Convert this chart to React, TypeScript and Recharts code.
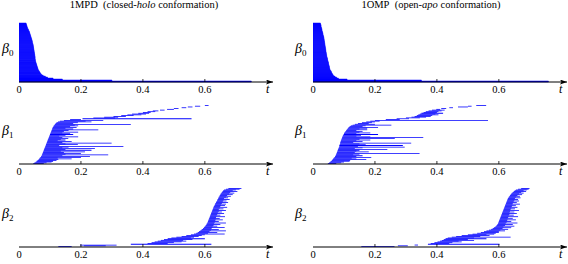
import { ComposedChart, Bar, XAxis, YAxis } from 'recharts';

const tickValues = [0, 0.2, 0.4, 0.6];
const timeDomain: [number, number] = [0, 0.82];

// beta_0: every bar is born at t = 0, rows listed top to bottom
const b0LeftDeath = [
  0.023, 0.024, 0.025, 0.026, 0.027, 0.028, 0.030, 0.031, 0.033, 0.034,
  0.035, 0.036, 0.037, 0.038, 0.039, 0.040, 0.041, 0.042, 0.043, 0.043, 0.044, 0.045, 0.046, 0.046,
  0.047, 0.047, 0.048, 0.048, 0.049, 0.049, 0.050, 0.050, 0.051, 0.051, 0.052, 0.052, 0.052, 0.053,
  0.053, 0.054, 0.055, 0.056, 0.057, 0.058, 0.059, 0.060, 0.061, 0.062,
  0.064, 0.066, 0.068, 0.070, 0.073,
  0.078, 0.085, 0.092, 0.110, 0.140, 0.300, 0.750,
];
const b0RightDeath = [
  0.024, 0.025, 0.026, 0.026, 0.027, 0.028, 0.029, 0.029, 0.030, 0.031, 0.032, 0.032, 0.033, 0.034,
  0.035, 0.035, 0.036, 0.036, 0.037, 0.037, 0.038, 0.038, 0.039, 0.039, 0.040, 0.040, 0.041, 0.041,
  0.042, 0.042, 0.043, 0.043, 0.044, 0.044, 0.045,
  0.046, 0.047, 0.047, 0.048, 0.049, 0.050, 0.050, 0.051, 0.052, 0.053, 0.053, 0.054, 0.055,
  0.057, 0.059, 0.060, 0.062, 0.064, 0.066,
  0.071, 0.076, 0.082,
  0.110, 0.350, 0.760,
];

// beta_1, 1MPD
const b1LeftBirth = [
  0.600, 0.568, 0.545, 0.525, 0.500, 0.478, 0.455, 0.432, 0.415, 0.400, 0.385, 0.365, 0.350, 0.330, 0.305, 0.275, 0.240, 0.205,
  0.165, 0.145, 0.132, 0.126, 0.121, 0.118, 0.116,
  0.114, 0.112, 0.111, 0.109, 0.108, 0.107, 0.106, 0.105, 0.104, 0.103,
  0.102, 0.101, 0.100, 0.099, 0.098, 0.097, 0.096, 0.095, 0.094, 0.093, 0.092, 0.091, 0.090, 0.089, 0.088,
  0.087, 0.086, 0.085, 0.084, 0.083, 0.082, 0.081, 0.080, 0.079, 0.078, 0.077, 0.076, 0.075, 0.074, 0.073,
  0.071, 0.069, 0.067, 0.065, 0.063, 0.060, 0.057, 0.054, 0.050, 0.046,
];
const b1LeftDeath = [
  0.612, 0.585, 0.560, 0.540, 0.515, 0.500, 0.470, 0.450, 0.440, 0.425, 0.420, 0.410, 0.395, 0.370, 0.345, 0.320, 0.310, 0.557,
  0.200, 0.272, 0.215, 0.234, 0.190, 0.175, 0.361, 0.180, 0.191, 0.165, 0.186, 0.150, 0.175, 0.256, 0.160, 0.145, 0.191,
  0.140, 0.165, 0.175, 0.150, 0.130, 0.191, 0.140, 0.159, 0.135, 0.150, 0.125, 0.170, 0.140, 0.299, 0.150,
  0.190, 0.130, 0.337, 0.160, 0.140, 0.245, 0.150, 0.234, 0.135, 0.213, 0.145, 0.200, 0.150, 0.288, 0.140,
  0.229, 0.200, 0.125, 0.170, 0.127, 0.121, 0.110, 0.105, 0.089, 0.080,
];

// beta_1, 1OMP
const b1RightBirth = [
  0.527, 0.500, 0.468, 0.440, 0.414, 0.398, 0.384, 0.373, 0.364, 0.357, 0.350, 0.345, 0.340, 0.335, 0.328, 0.318, 0.300, 0.270, 0.235, 0.200,
  0.185, 0.172, 0.158, 0.145, 0.135, 0.128, 0.122, 0.118, 0.115, 0.113, 0.111, 0.109, 0.107, 0.105, 0.103,
  0.101, 0.100, 0.099, 0.097, 0.096, 0.095, 0.094, 0.093, 0.092, 0.091, 0.090, 0.089, 0.088, 0.088, 0.087,
  0.086, 0.085, 0.085, 0.084, 0.083, 0.082, 0.081, 0.080, 0.079, 0.078, 0.077, 0.076, 0.075, 0.074, 0.073,
  0.071, 0.069, 0.067, 0.065, 0.063, 0.061, 0.058, 0.055, 0.052, 0.048,
];
const b1RightDeath = [
  0.559, 0.512, 0.500, 0.452, 0.430, 0.410, 0.425, 0.415, 0.405, 0.400, 0.420, 0.395, 0.405, 0.385, 0.380, 0.365, 0.345, 0.310, 0.280, 0.565,
  0.215, 0.200, 0.190, 0.180, 0.200, 0.253, 0.170, 0.160, 0.210, 0.175, 0.150, 0.175, 0.140, 0.160, 0.150,
  0.185, 0.140, 0.210, 0.155, 0.140, 0.185, 0.356, 0.264, 0.150, 0.185, 0.140, 0.160, 0.130, 0.317, 0.150,
  0.170, 0.290, 0.145, 0.296, 0.160, 0.135, 0.240, 0.150, 0.140, 0.180, 0.135, 0.344, 0.150, 0.130, 0.160,
  0.140, 0.188, 0.125, 0.140, 0.172, 0.120, 0.118, 0.100, 0.091, 0.075,
];

// beta_2, 1MPD
const b2LeftBirth = [
  0.676, 0.668, 0.662, 0.659, 0.657, 0.655, 0.653, 0.651, 0.650, 0.648,
  0.647, 0.645, 0.644, 0.643, 0.641, 0.640, 0.639, 0.637, 0.636, 0.634,
  0.633, 0.632, 0.631, 0.629, 0.628, 0.627, 0.626, 0.625, 0.624, 0.623,
  0.622, 0.621, 0.620, 0.619, 0.618, 0.617, 0.616, 0.615, 0.614, 0.613,
  0.612, 0.611, 0.610, 0.609, 0.608, 0.606, 0.605, 0.603, 0.601, 0.599,
  0.597, 0.594, 0.591, 0.588, 0.585, 0.581, 0.577, 0.572, 0.565, 0.555,
  0.540, 0.525, 0.508, 0.492, 0.480, 0.468, 0.458, 0.448, 0.438, 0.428,
  0.415, 0.361, 0.197, 0.210, 0.127,
];
const b2LeftDeath = [
  0.718, 0.712, 0.700, 0.690, 0.705, 0.682, 0.695, 0.678, 0.690, 0.672,
  0.684, 0.668, 0.675, 0.662, 0.680, 0.660, 0.670, 0.658, 0.675, 0.655,
  0.668, 0.652, 0.665, 0.650, 0.672, 0.648, 0.660, 0.645, 0.668, 0.645,
  0.655, 0.642, 0.662, 0.640, 0.650, 0.638, 0.665, 0.636, 0.648, 0.635,
  0.658, 0.634, 0.645, 0.632, 0.668, 0.630, 0.650, 0.628, 0.640, 0.625,
  0.664, 0.622, 0.645, 0.620, 0.668, 0.615, 0.640, 0.610, 0.664, 0.600,
  0.590, 0.580, 0.565, 0.555, 0.600, 0.560, 0.530, 0.540, 0.525, 0.500,
  0.480, 0.621, 0.315, 0.280, 0.170,
];

// beta_2, 1OMP
const b2RightBirth = [
  0.672, 0.662, 0.655, 0.651, 0.648, 0.645, 0.642, 0.640, 0.638, 0.636,
  0.634, 0.632, 0.631, 0.629, 0.628, 0.627, 0.626, 0.625, 0.624, 0.623,
  0.622, 0.621, 0.620, 0.619, 0.618, 0.617, 0.616, 0.615, 0.614, 0.613,
  0.612, 0.611, 0.610, 0.609, 0.608, 0.607, 0.606, 0.605, 0.604, 0.603,
  0.602, 0.601, 0.600, 0.599, 0.598, 0.597, 0.595, 0.593, 0.591, 0.588,
  0.584, 0.580, 0.575, 0.568, 0.560, 0.552, 0.542, 0.530, 0.515, 0.500,
  0.480, 0.462, 0.448, 0.435, 0.428, 0.422, 0.416, 0.410, 0.402, 0.392,
  0.380, 0.371, 0.328, 0.274, 0.156,
];
const b2RightDeath = [
  0.699, 0.696, 0.690, 0.680, 0.688, 0.672, 0.680, 0.665, 0.675, 0.660,
  0.668, 0.655, 0.670, 0.652, 0.662, 0.650, 0.665, 0.648, 0.658, 0.645,
  0.668, 0.644, 0.655, 0.642, 0.660, 0.640, 0.652, 0.638, 0.665, 0.636,
  0.650, 0.635, 0.658, 0.634, 0.648, 0.632, 0.662, 0.630, 0.645, 0.628,
  0.655, 0.627, 0.640, 0.625, 0.660, 0.622, 0.645, 0.620, 0.650, 0.615,
  0.640, 0.612, 0.630, 0.605, 0.620, 0.600, 0.600, 0.590, 0.585, 0.560,
  0.570, 0.540, 0.638, 0.520, 0.560, 0.500, 0.520, 0.470, 0.480, 0.450,
  0.440, 0.602, 0.339, 0.306, 0.263,
];

const titles = [
  { pre: '1MPD\u00a0\u00a0(closed-', em: 'holo', post: ' conformation)' },
  { pre: '1OMP\u00a0\u00a0(open-', em: 'apo', post: ' conformation)' },
];

type Row = { id: number; range: [number, number] };

const toRows = (birth: number[], death: number[]): Row[] =>
  death.map((d, i) => ({ id: i, range: [birth[i], d] }));

const fromZero = (death: number[]): Row[] => death.map((d, i) => ({ id: i, range: [0, d] }));

const BLUE = '#0000ff';
const FONT = '"Liberation Serif", "DejaVu Serif", serif';

// panel geometry (page pixels)
const columns = [
  { colLeft: 0, axisX: 19, tX: 266, betaX: 2 },
  { colLeft: 284, axisX: 313, tX: 559, betaX: 295 },
];
const levels = [
  { tipY: 12, axisY: 82, padTop: 11 },
  { tipY: 100, axisY: 164, padTop: 5 },
  { tipY: 184, axisY: 247, padTop: 4 },
];

const panelRows: Row[][][] = [
  [fromZero(b0LeftDeath), toRows(b1LeftBirth, b1LeftDeath), toRows(b2LeftBirth, b2LeftDeath)],
  [fromZero(b0RightDeath), toRows(b1RightBirth, b1RightDeath), toRows(b2RightBirth, b2RightDeath)],
];

function TimeTick(props: any) {
  const { x, y, payload } = props;
  return (
    <g>
      {payload.value > 0 && <line x1={x} x2={x} y1={y} y2={y - 3} stroke="#000" strokeWidth={0.8} />}
      <text x={x} y={y + 10.5} textAnchor="middle" fontFamily={FONT} fontSize={10.5} fill="#000">
        {payload.value}
      </text>
    </g>
  );
}

interface PanelProps {
  rows: Row[];
  colLeft: number;
  axisX: number;
  tipY: number;
  axisY: number;
  padTop: number;
  solid: boolean;
}

function BarcodePanel({ rows, colLeft, axisX, tipY, axisY, padTop, solid }: PanelProps) {
  const top = tipY - 6;
  const height = axisY - tipY + 6 + 18;
  const left = axisX - colLeft;
  return (
    <div style={{ position: 'absolute', left: colLeft, top }}>
      <ComposedChart
        width={284}
        height={height}
        data={rows}
        layout="vertical"
        margin={{ top: 6, right: 284 - left - 254, bottom: 0, left }}
        barCategoryGap={0}
        barGap={0}
      >
        <XAxis
          type="number"
          domain={timeDomain}
          ticks={tickValues}
          interval={0}
          allowDataOverflow
          height={18}
          tickSize={0}
          tickMargin={0}
          tickLine={false}
          axisLine={{ stroke: '#000', strokeWidth: 1, markerEnd: 'url(#axisArrow)' }}
          tick={(p: any) => <TimeTick {...p} />}
        />
        <YAxis
          type="category"
          dataKey="id"
          width={0}
          tick={false}
          tickLine={false}
          padding={{ top: padTop, bottom: 0 }}
          axisLine={{ stroke: '#000', strokeWidth: 1, markerStart: 'url(#axisArrow)' }}
        />
        <Bar
          dataKey="range"
          fill={BLUE}
          stroke={solid ? BLUE : 'none'}
          strokeWidth={solid ? 0.5 : 0}
          isAnimationActive={false}
        />
      </ComposedChart>
    </div>
  );
}

export default function App() {
  return (
    <div
      style={{
        position: 'absolute',
        left: 0,
        top: 0,
        width: 568,
        height: 264,
        background: '#fff',
        overflow: 'hidden',
        fontFamily: FONT,
      }}
    >
      <svg width={0} height={0} style={{ position: 'absolute' }}>
        <defs>
          <marker
            id="axisArrow"
            viewBox="0 0 7 5"
            refX={7}
            refY={2.5}
            markerWidth={7}
            markerHeight={5}
            markerUnits="userSpaceOnUse"
            orient="auto-start-reverse"
          >
            <path d="M0,0 L7,2.5 L0,5 L1.5,2.5 z" fill="#000" />
          </marker>
        </defs>
      </svg>
      {columns.map((c, ci) =>
        levels.map((l, li) => (
          <BarcodePanel
            key={`${ci}-${li}`}
            rows={panelRows[ci][li]}
            colLeft={c.colLeft}
            axisX={c.axisX}
            tipY={l.tipY}
            axisY={l.axisY}
            padTop={l.padTop}
            solid={li === 0}
          />
        ))
      )}
      <svg
        width={568}
        height={264}
        style={{ position: 'absolute', left: 0, top: 0, pointerEvents: 'none' }}
        fontFamily={FONT}
      >
        {titles.map((t, i) => (
          <text key={t.pre} x={i === 0 ? 144 : 431} y={8} textAnchor="middle" fontSize={10.5} fill="#000">
            {t.pre}
            <tspan fontStyle="italic">{t.em}</tspan>
            {t.post}
          </text>
        ))}
        {columns.map((c) =>
          levels.map((l, li) => (
            <g key={`${c.colLeft}-${li}`}>
              <text x={c.betaX} y={l.axisY - 29} fontSize={14} fontStyle="italic" fill="#000">
                β
                <tspan fontSize={9} fontStyle="normal" dy={3}>
                  {li}
                </tspan>
              </text>
              <text x={c.tX} y={l.axisY + 11} fontSize={12} fontStyle="italic" fill="#000">
                t
              </text>
            </g>
          ))
        )}
      </svg>
    </div>
  );
}
